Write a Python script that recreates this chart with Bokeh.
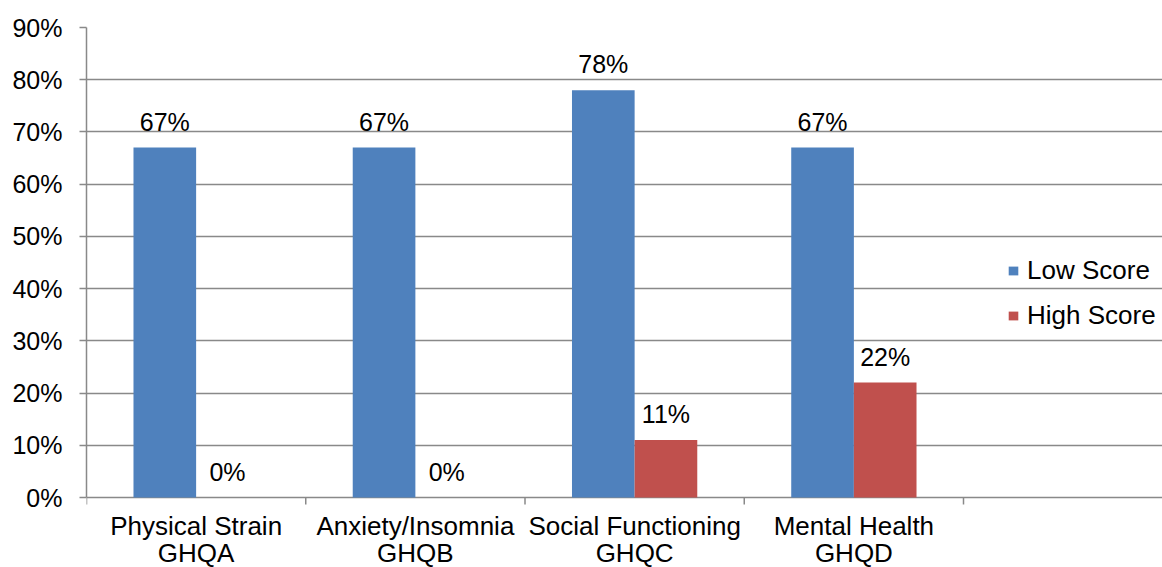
from bokeh.plotting import figure
from bokeh.models import (ColumnDataSource, Range1d, FixedTicker, NumeralTickFormatter,
                          LabelSet, Legend, LegendItem)
from bokeh.core.properties import value
from bokeh.embed import file_html
from bokeh.resources import INLINE

category_names = ["Physical Strain", "Anxiety/Insomnia", "Social Functioning", "Mental Health"]
category_codes = ["GHQA", "GHQB", "GHQC", "GHQD"]
low_score = [0.67, 0.67, 0.78, 0.67]
high_score = [0.00, 0.00, 0.11, 0.22]
series_names = ["Low Score", "High Score"]
y_ticks = [0.0, 0.1, 0.2, 0.3, 0.4, 0.5, 0.6, 0.7, 0.8, 0.9]

BLUE = "#4F81BD"
RED = "#C0504D"
GRID = "#898989"
FONT = "Liberation Sans"

# layout (pixels)
W, H = 1162, 567
LEFT, TOP = 86, 27
AXIS_Y = 497          # pixel row of the 0% line
CAT_PX = 877          # pixel width of the four categories
TICK_PX = 7

n = len(category_names)
y_max = y_ticks[-1]
data_per_px = y_max / (AXIS_Y - TOP)
y_start = -(H - AXIS_Y) * data_per_px
x_end = n * (W - LEFT) / CAT_PX

bar_w = 1 / 3.5
centers = [i + 0.5 for i in range(n)]
x_low = [c - bar_w / 2 for c in centers]
x_high = [c + bar_w / 2 for c in centers]

p = figure(width=W, height=H, output_backend="svg", toolbar_location=None,
           x_range=Range1d(0, x_end), y_range=Range1d(y_start, y_max),
           min_border_left=LEFT, min_border_top=TOP, min_border_bottom=0,
           min_border_right=0)
p.outline_line_color = None
p.background_fill_color = "white"
p.xaxis.visible = False

src_low = ColumnDataSource(dict(x=x_low, top=low_score,
                                lbl=[f"{round(v*100)}%" for v in low_score]))
src_high = ColumnDataSource(dict(x=x_high, top=high_score,
                                 lbl=[f"{round(v*100)}%" for v in high_score]))

r1 = p.vbar(x="x", top="top", bottom=0, width=bar_w, source=src_low,
            fill_color=BLUE, line_color=None)
r2 = p.vbar(x="x", top="top", bottom=0, width=bar_w, source=src_high,
            fill_color=RED, line_color=None)

for src in (src_low, src_high):
    p.add_layout(LabelSet(x="x", y="top", text="lbl", source=src, y_offset=17,
                          text_align="center", text_baseline="alphabetic",
                          text_font=value(FONT), text_font_size="25px",
                          text_color="black"))

# y axis
p.yaxis.bounds = (0, y_max)
p.yaxis.ticker = FixedTicker(ticks=y_ticks)
p.yaxis.formatter = NumeralTickFormatter(format="0%")
p.yaxis.major_tick_out = TICK_PX
p.yaxis.major_tick_in = 0
p.yaxis.minor_tick_line_color = None
p.yaxis.major_label_standoff = 17
p.yaxis.major_label_text_font = FONT
p.yaxis.major_label_text_font_size = "25px"
p.yaxis.major_label_text_color = "black"
p.yaxis.axis_line_color = GRID
p.yaxis.axis_line_width = 1.5
p.yaxis.major_tick_line_color = GRID
p.yaxis.major_tick_line_width = 1.5

p.ygrid.ticker = FixedTicker(ticks=y_ticks)
p.ygrid.bounds = (0, n)
p.ygrid.grid_line_color = GRID
p.ygrid.grid_line_width = 1.5
p.xgrid.grid_line_color = None

# category boundary tick marks below the 0% line
bounds = list(range(n + 1))
p.segment(x0=bounds, y0=[0] * len(bounds), x1=bounds,
          y1=[-TICK_PX * data_per_px] * len(bounds),
          line_color=GRID, line_width=1.5)

# category names (two centred lines)
cat_src = ColumnDataSource(dict(x=centers, y=[0] * n, name=category_names,
                                code=category_codes))
for col, off in (("name", -37), ("code", -64)):
    p.add_layout(LabelSet(x="x", y="y", text=col, source=cat_src, y_offset=off,
                          text_align="center", text_baseline="alphabetic",
                          text_font=value(FONT), text_font_size="26px",
                          text_color="black"))

legend = Legend(items=[LegendItem(label=series_names[0], renderers=[r1]),
                       LegendItem(label=series_names[1], renderers=[r2])],
                location=(921, 236), glyph_width=12, glyph_height=11,
                label_standoff=8, spacing=14, padding=0, margin=0,
                border_line_color=None, background_fill_alpha=0,
                label_text_font=FONT, label_text_font_size="26px",
                label_text_color="black")
p.add_layout(legend, "center")

open("out.html", "w").write(file_html(p, INLINE))
